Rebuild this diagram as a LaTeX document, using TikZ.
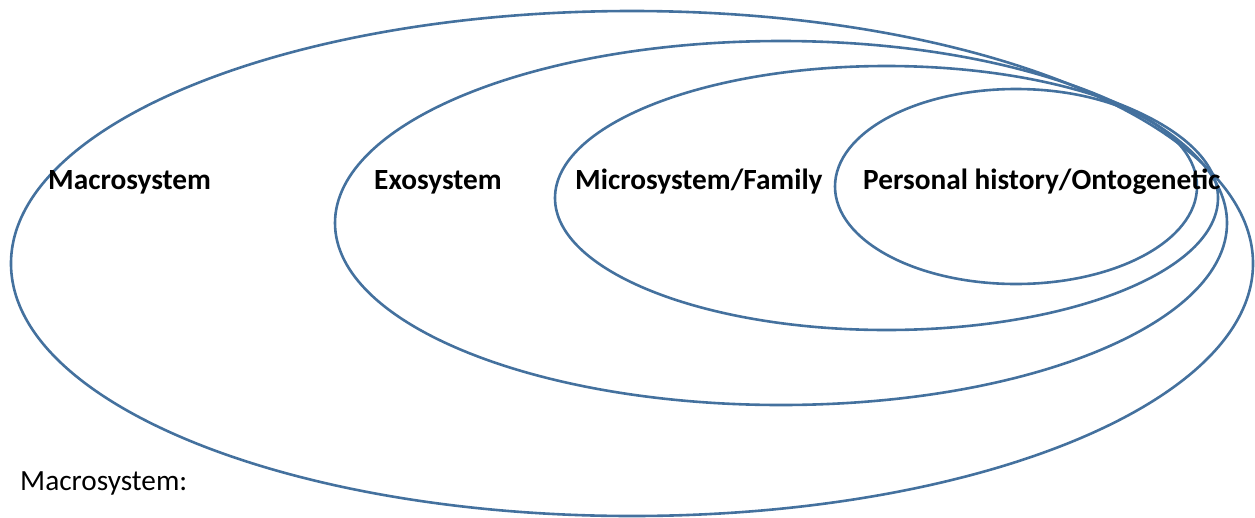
\documentclass[tikz,border=0pt]{standalone}
\usepackage{fontspec}
\setmainfont{Carlito}
\definecolor{ringblue}{RGB}{68,113,158}
\begin{document}
\begin{tikzpicture}[x=1pt,y=-1pt,
  ring/.style={draw=ringblue,line width=2.6pt},
  lab/.style={font=\fontsize{29.3}{33}\selectfont\bfseries,anchor=base west,inner sep=0pt,text=black},
  note/.style={font=\fontsize{29.3}{33}\selectfont,anchor=base west,inner sep=0pt,text=black}]
\useasboundingbox (0,0) rectangle (1255,517);
\draw[ring] (632,263.5) ellipse [x radius=621,y radius=252.5];
\draw[ring] (781,223) ellipse [x radius=446,y radius=182];
\draw[ring] (886.5,198) ellipse [x radius=331.5,y radius=132];
\draw[ring] (1016,186.5) ellipse [x radius=181,y radius=97.5];
\node[lab] (macro) at (48,189) {Macrosystem};
\node[lab] (exo) at (374,189) {Exosystem};
\node[lab] (micro) at (575,189) {Microsystem/Family};
\node[lab] (pers) at (863,189) {Personal history/Ontogenetic};
\node[note] (mnote) at (20,490) {Macrosystem:};
\end{tikzpicture}
\end{document}
